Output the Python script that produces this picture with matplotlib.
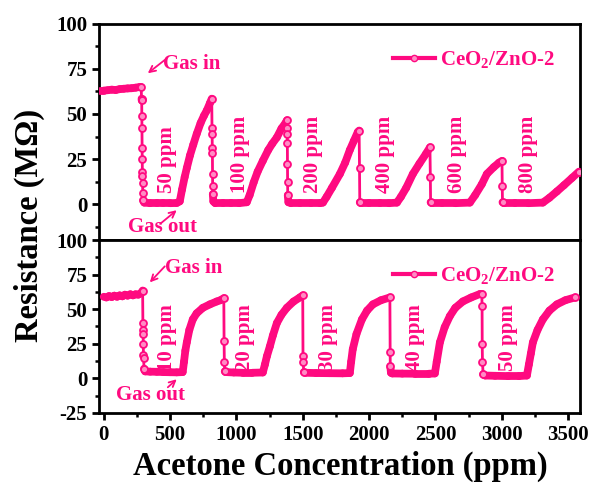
import matplotlib
matplotlib.use("Agg")
import matplotlib.pyplot as plt
from matplotlib.lines import Line2D
from matplotlib.collections import LineCollection
from matplotlib.ticker import MultipleLocator
import numpy as np

plt.rcParams['font.family'] = ['Liberation Serif', 'DejaVu Serif']
plt.rcParams['font.weight'] = 'bold'
plt.rcParams['mathtext.fontset'] = 'custom'
plt.rcParams['mathtext.rm'] = 'Liberation Serif:bold'
plt.rcParams['mathtext.bf'] = 'Liberation Serif:bold'

PINK = '#FF0A80'
LIGHT = '#FF8CC4'

# ---- data: top panel (50-800 ppm) ----
t_top = [-30, 0, 30, 60, 90, 120, 150, 180, 210, 240, 270, 282,
         285, 286, 287, 288, 289, 290, 291, 292, 293, 294, 297, 305,
         350, 400, 450, 500, 550, 573,
         590, 610, 626, 650, 675, 701, 730, 755, 777, 800, 814,
         816, 817, 818, 819, 820, 821, 822, 826, 840,
         900, 960, 1020, 1078,
         1100, 1130, 1160, 1199, 1240, 1270, 1305, 1340, 1370, 1380,
         1382, 1383, 1384, 1385, 1386, 1387, 1392, 1410,
         1480, 1560, 1630, 1652,
         1680, 1720, 1780, 1820, 1855, 1885, 1915, 1925,
         1928, 1930, 1940,
         2000, 2080, 2150, 2210,
         2240, 2280, 2330, 2380, 2430, 2459,
         2462, 2464, 2475,
         2550, 2650, 2760,
         2800, 2850, 2888, 2940, 2980, 3002,
         3004, 3006, 3020,
         3100, 3200, 3310,
         3360, 3416, 3470, 3530, 3582]
r_top = [63, 63, 63.2, 63.5, 63.3, 63.8, 64, 64.2, 64.3, 64.6, 65, 65,
         58.5, 57.5, 49, 42, 31, 25, 18, 15.5, 11.7, 6, 2, 0.8,
         0.5, 0.5, 0.5, 0.5, 0.6, 1.5,
         8, 15, 20, 27, 33, 39, 45, 49, 52, 56, 58.5,
         42, 39, 31, 28.5, 16.7, 10, 5.6, 1.5, 0.5,
         0.5, 0.5, 0.5, 1,
         5, 12, 18, 24, 30, 33.5, 37, 42, 45, 46.5,
         42, 39, 34, 22, 12, 5, 1, 0.5,
         0.5, 0.5, 0.5, 0.8,
         4, 9, 16.7, 23, 30, 35, 40, 40.8,
         20, 1, 0.5,
         0.5, 0.5, 0.5, 0.8,
         4, 9, 16.7, 22.5, 28, 31.5,
         15, 1, 0.5,
         0.5, 0.5, 0.8,
         5, 11, 16.7, 20.5, 23, 24,
         10, 1, 0.5,
         0.5, 0.5, 0.8,
         3.5, 7, 10.5, 14.5, 18]

# ---- data: bottom panel (10-50 ppm) ----
t_bot = [0, 20, 40, 60, 80, 100, 120, 140, 160, 180, 200, 220, 240, 260, 280, 293,
         295, 296, 297, 298, 299, 300, 304, 312,
         350, 400, 450, 500, 550, 595,
         605, 615, 626, 645, 671, 700, 747, 800, 852, 880, 905,
         907, 909, 912, 920,
         980, 1050, 1120, 1199,
         1215, 1230, 1252, 1275, 1305, 1340, 1380, 1430, 1478, 1500,
         1502, 1503, 1508, 1520,
         1600, 1700, 1800, 1855,
         1865, 1877, 1905, 1946, 1985, 2029, 2090, 2157,
         2159, 2160, 2165, 2175,
         2250, 2350, 2450, 2496,
         2510, 2534, 2570, 2609, 2650, 2707, 2770, 2836, 2850,
         2852, 2853, 2855, 2860, 2875,
         2950, 3050, 3130, 3190,
         3205, 3220, 3235, 3270, 3310, 3360, 3416, 3480, 3552]
r_bot = [59, 58.5, 59.5, 58.8, 59.8, 59, 60, 59.3, 60.5, 59.8, 60.8, 60, 60.8, 60.5, 61.5, 63.5,
         40, 35, 32, 24.5, 17, 15, 7, 5,
         4.8, 4.7, 4.5, 4.4, 4.3, 4.5,
         12, 20, 26, 35, 42.6, 47, 51, 53.5, 55.6, 56.5, 58,
         27, 12, 5, 4.5,
         4.2, 4, 4, 4.2,
         10, 16, 23, 31, 40, 46, 51, 55.5, 58.5, 60,
         16, 12, 4.5, 4,
         3.8, 3.7, 3.6, 3.8,
         12, 21, 32, 42.6, 49, 53.5, 56.5, 58.5,
         19, 8.7, 4, 3.5,
         3.4, 3.3, 3.3, 3.5,
         12, 26, 37, 45, 51, 55.6, 58.5, 61, 61,
         52, 24.5, 11.6, 3, 2,
         1.8, 1.6, 1.6, 2,
         10, 18, 26, 35, 42.6, 49, 53.5, 56.5, 58.5]

conc_top = ['50 ppm', '100 ppm', '200 ppm', '400 ppm', '600 ppm', '800 ppm']
conc_top_x = [475, 1026, 1577, 2119, 2662, 3198]
conc_bot = ['10 ppm', '20 ppm', '30 ppm', '40 ppm', '50 ppm']
conc_bot_x = [475, 1063, 1690, 2345, 3047]

x_ticks = [0, 500, 1000, 1500, 2000, 2500, 3000, 3500]
legend_label = r'CeO$_2$/ZnO-2'

fig = plt.figure(figsize=(5.9, 4.88), dpi=100)
ax1 = fig.add_axes([0.168, 0.508, 0.815, 0.443])
ax2 = fig.add_axes([0.168, 0.154, 0.815, 0.354])


def draw(ax, t, r):
    t = np.asarray(t, float)
    r = np.asarray(r, float)
    pts = np.column_stack([t, r])
    segs = np.stack([pts[:-1], pts[1:]], axis=1)
    slope = np.abs(np.diff(r) / np.diff(t))
    fast = slope > 1.2
    widths = np.where(fast, 2.0, 5.6)
    lc = LineCollection(segs, colors=PINK, linewidths=widths, capstyle='round',
                        joinstyle='round', zorder=3)
    ax.add_collection(lc)
    mk = np.zeros(len(t), bool)
    mk[:-1] |= fast
    mk[1:] |= fast
    mk[-1] = True
    ax.plot(t[mk], r[mk], ls='none', marker='o', ms=5, mfc=LIGHT, mec=PINK,
            mew=1.3, zorder=4)


draw(ax1, t_top, r_top)
draw(ax2, t_bot, r_bot)

for ax in (ax1, ax2):
    ax.set_xlim(-35, 3590)
    for s in ax.spines.values():
        s.set_linewidth(2)
    ax.yaxis.set_major_locator(MultipleLocator(25))
    ax.yaxis.set_minor_locator(MultipleLocator(12.5))
    ax.xaxis.set_minor_locator(MultipleLocator(250))
    ax.tick_params(axis='both', which='major', direction='out', length=5, width=2,
                   labelsize=15, top=False, right=False)
    ax.tick_params(axis='both', which='minor', direction='out', length=3, width=1.8,
                   top=False, right=False)

ax1.set_ylim(-20, 100)
ax1.set_yticks([0, 25, 50, 75, 100])
ax1.set_xticks(x_ticks)
ax1.tick_params(axis='x', which='both', bottom=False, labelbottom=False)
ax2.set_ylim(-25, 100)
ax2.set_yticks([-25, 0, 25, 50, 75, 100])
ax2.set_xticks(x_ticks)
for ax in (ax1, ax2):
    ax.set_yticklabels([f'{int(v)}' for v in ax.get_yticks()], fontweight='bold', fontsize=15)
ax2.set_xticklabels([str(v) for v in x_ticks], fontweight='bold', fontsize=15)

tk = dict(color=PINK, fontsize=15, fontweight='bold', rotation=90, ha='center', va='bottom')
for lab, x in zip(conc_top, conc_top_x):
    ax1.text(x, 6, lab, **tk)
for lab, x in zip(conc_bot, conc_bot_x):
    ax2.text(x, 5, lab, **tk)

ak = dict(color=PINK, fontsize=15, fontweight='bold', va='center')
ap = dict(arrowstyle='->', color=PINK, lw=1.3, shrinkA=0, shrinkB=0, mutation_scale=11)
# Gas in / Gas out labels and arrows
ax1.text(450, 77.5, 'Gas in', ha='left', **ak)
ax1.annotate('', xy=(332, 72.6), xytext=(460, 80), arrowprops=ap)
ax1.text(440, -13, 'Gas out', ha='center', **ak)
ax1.annotate('', xy=(550, -3.4), xytext=(425, -11), arrowprops=ap)
ax2.text(460, 79.5, 'Gas in', ha='left', **ak)
ax2.annotate('', xy=(347, 69.4), xytext=(460, 81), arrowprops=ap)
ax2.text(350, -12.3, 'Gas out', ha='center', **ak)
ax2.annotate('', xy=(550, -0.7), xytext=(483, -6.5), arrowprops=ap)

h = Line2D([], [], color=PINK, lw=3, marker='o', ms=4.5, mfc=LIGHT, mec=PINK)
for ax in (ax1, ax2):
    leg = ax.legend([h], [legend_label], loc='upper right', frameon=False, fontsize=15,
                    handlelength=2.0, handletextpad=0.25, borderaxespad=0.8)
    for txt in leg.get_texts():
        txt.set_color(PINK)
        txt.set_fontweight('bold')

fig.text(0.049, 0.539, 'Resistance (M\u03a9)', rotation=90, ha='center', va='center',
         fontsize=23.5, fontweight='bold')
fig.text(0.576, 0.045, 'Acetone Concentration (ppm)', ha='center', va='center',
         fontsize=23.5, fontweight='bold')

fig.savefig('out.png', dpi=100)
